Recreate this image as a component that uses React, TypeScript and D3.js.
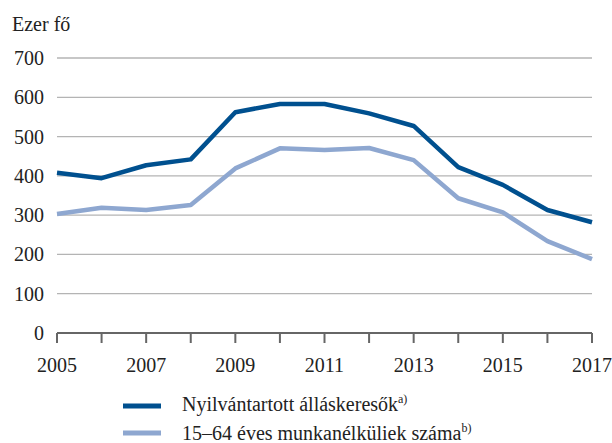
import React from 'react';
import * as d3 from 'd3';

const years = [2005, 2006, 2007, 2008, 2009, 2010, 2011, 2012, 2013, 2014, 2015, 2016, 2017];
const jobSeekers = [408, 394, 427, 442, 562, 583, 583, 559, 527, 422, 377, 313, 282];
const unemployed = [303, 319, 313, 326, 419, 470, 466, 471, 440, 343, 307, 234, 188];
const yTicks = [0, 100, 200, 300, 400, 500, 600, 700];
const xLabels = [2005, 2007, 2009, 2011, 2013, 2015, 2017];

const series = [
  { name: 'Nyilvántartott álláskeresők', sup: 'a)', values: jobSeekers, color: '#00508f' },
  { name: '15–64 éves munkanélküliek száma', sup: 'b)', values: unemployed, color: '#8ea7d0' },
];

const W = 612;
const H = 443;
const font = "'Liberation Serif', 'DejaVu Serif', serif";

export default function App() {
  const x = d3.scaleLinear().domain([2005, 2017]).range([57, 592]);
  const y = d3.scaleLinear().domain([0, 700]).range([333, 58]);

  const line = d3
    .line<number>()
    .x((_, i) => x(years[i]))
    .y((d) => y(d));

  return (
    <svg width={W} height={H} style={{ position: 'absolute', left: 0, top: 0, background: '#fff', fontFamily: font }}>
      <text x={12} y={31} fontSize={20} fill="#222">Ezer fő</text>

      {yTicks.map((t) => (
        <g key={t}>
          {t > 0 && (
            <line x1={57} x2={592} y1={y(t)} y2={y(t)} stroke="#b4b4b4" strokeWidth={1.3} />
          )}
          <text x={44} y={y(t) + 7} textAnchor="end" fontSize={20} fill="#222">
            {t}
          </text>
        </g>
      ))}

      {/* x axis */}
      <line x1={57} x2={592} y1={y(0)} y2={y(0)} stroke="#666" strokeWidth={2} />
      {years.map((yr) => (
        <line key={yr} x1={x(yr)} x2={x(yr)} y1={y(0)} y2={y(0) + 10} stroke="#666" strokeWidth={2} />
      ))}
      {xLabels.map((yr) => (
        <text key={yr} x={x(yr)} y={372} textAnchor="middle" fontSize={20} fill="#222">
          {yr}
        </text>
      ))}

      {series.map((s) => (
        <path
          key={s.name}
          d={line(s.values) ?? ''}
          fill="none"
          stroke={s.color}
          strokeWidth={4.5}
          strokeLinejoin="round"
        />
      ))}

      {/* legend */}
      {series.map((s, i) => (
        <g key={s.name} transform={`translate(0, ${406 + i * 27})`}>
          <line x1={123} x2={161} y1={0} y2={0} stroke={s.color} strokeWidth={5} />
          <text x={182} y={5 + i * 2} fontSize={20} fill="#222">
            {s.name}
            <tspan fontSize={12} dy={-8}>{s.sup}</tspan>
          </text>
        </g>
      ))}
    </svg>
  );
}
